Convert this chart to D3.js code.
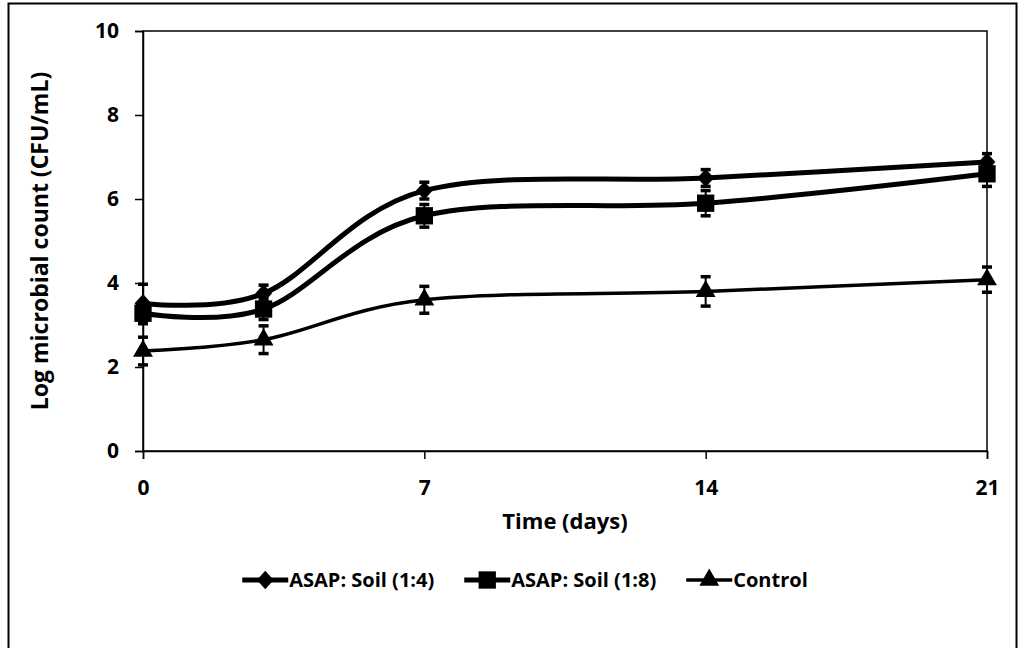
<!DOCTYPE html>
<html>
<head>
<meta charset="utf-8">
<script src="https://cdn.jsdelivr.net/npm/d3@7"></script>
<style>
  body { margin: 0; background: #fff; }
  text { font-family: "Open Sans", sans-serif; font-weight: bold; fill: #000; }
</style>
</head>
<body>
<svg id="chart"></svg>
<script>
// Data
const days = [0, 3, 7, 14, 21];
const seriesNames = ["ASAP: Soil (1:4)", "ASAP: Soil (1:8)", "Control"];
const soil14 = [3.52, 3.75, 6.2, 6.5, 6.88];
const soil14Err = [0.45, 0.2, 0.2, 0.2, 0.2];
const soil18 = [3.28, 3.38, 5.6, 5.9, 6.6];
const soil18Err = [0.25, 0.25, 0.27, 0.3, 0.3];
const control = [2.38, 2.65, 3.6, 3.8, 4.08];
const controlErr = [0.33, 0.33, 0.32, 0.35, 0.3];
const xTicks = [0, 7, 14, 21];
const yTicks = [0, 2, 4, 6, 8, 10];

// Excel-style diamond (rotated square)
const diamond = {
  draw(ctx, size) {
    const r = Math.sqrt(size / 2);
    ctx.moveTo(0, -r * 1.1);
    ctx.lineTo(r, 0);
    ctx.lineTo(0, r * 1.1);
    ctx.lineTo(-r, 0);
    ctx.closePath();
  }
};

const series = [
  { name: seriesNames[0], values: soil14, err: soil14Err, symbol: diamond, size: 140, width: 5 },
  { name: seriesNames[1], values: soil18, err: soil18Err, symbol: d3.symbolSquare, size: 300, width: 5 },
  { name: seriesNames[2], values: control, err: controlErr, symbol: d3.symbolTriangle, size: 170, width: 3.5 }
];

const W = 1020, H = 648;
const margin = { left: 143, right: 33, top: 31, bottom: 197 };

const svg = d3.select("#chart").attr("width", W).attr("height", H);

// outer frame
svg.append("rect")
    .attr("x", 8.5).attr("y", 3.5)
    .attr("width", 1008).attr("height", 700)
    .attr("fill", "none").attr("stroke", "#000").attr("stroke-width", 2);

const x = d3.scaleLinear().domain([0, 21]).range([margin.left, W - margin.right]);
const y = d3.scaleLinear().domain([0, 10]).range([H - margin.bottom, margin.top]);

// plot area box
svg.append("rect")
    .attr("x", x(0)).attr("y", y(10))
    .attr("width", x(21) - x(0)).attr("height", y(0) - y(10))
    .attr("fill", "none").attr("stroke", "#000").attr("stroke-width", 1.5);

// axes
const xAxis = svg.append("g")
    .attr("transform", `translate(0,${y(0)})`)
    .call(d3.axisBottom(x).tickValues(xTicks).tickSize(8).tickPadding(21));
const yAxis = svg.append("g")
    .attr("transform", `translate(${x(0)},0)`)
    .call(d3.axisLeft(y).tickValues(yTicks).tickSize(8).tickPadding(16));

[xAxis, yAxis].forEach(a => {
  a.select(".domain").attr("stroke", "#000").attr("stroke-width", 1.5);
  a.selectAll(".tick line").attr("stroke", "#000").attr("stroke-width", 1.5);
  a.selectAll(".tick text")
      .attr("font-family", "'Open Sans', sans-serif")
      .attr("font-weight", "bold")
      .attr("font-size", 21)
      .attr("fill", "#000");
});

// axis titles
svg.append("text")
    .attr("x", (x(0) + x(21)) / 2)
    .attr("y", 529)
    .attr("text-anchor", "middle")
    .attr("font-size", 22)
    .text("Time (days)");

svg.append("text")
    .attr("transform", `translate(48,${(y(0) + y(10)) / 2}) rotate(-90)`)
    .attr("text-anchor", "middle")
    .attr("font-size", 23)
    .text("Log microbial count (CFU/mL)");

// lines
const line = d3.line()
    .x((d, i) => x(days[i]))
    .y(d => y(d))
    .curve(d3.curveCardinal.tension(0));

const chart = svg.append("g");

series.forEach(s => {
  chart.append("path")
      .datum(s.values)
      .attr("fill", "none")
      .attr("stroke", "#000")
      .attr("stroke-width", s.width)
      .attr("d", line);
});

// error bars
series.forEach(s => {
  const g = chart.append("g");
  s.values.forEach((v, i) => {
    const cx = x(days[i]);
    g.append("line")
        .attr("x1", cx).attr("x2", cx)
        .attr("y1", y(v + s.err[i])).attr("y2", y(v - s.err[i]))
        .attr("stroke", "#000").attr("stroke-width", 2);
    [v + s.err[i], v - s.err[i]].forEach(e => {
      g.append("line")
          .attr("x1", cx - 5).attr("x2", cx + 5)
          .attr("y1", y(e)).attr("y2", y(e))
          .attr("stroke", "#000").attr("stroke-width", 3.5);
    });
  });
});

// markers
series.forEach(s => {
  chart.selectAll(null)
      .data(s.values)
    .join("path")
      .attr("transform", (d, i) => `translate(${x(days[i])},${y(d)})`)
      .attr("d", d3.symbol().type(s.symbol).size(s.size))
      .attr("fill", "#000");
});

// legend: items laid out by measured text, centred under the chart
const keyW = 46, gap = 30, legendCentre = 525;
const legend = svg.append("g").attr("transform", "translate(0,580)");
const items = series.map(s => {
  const g = legend.append("g");
  g.append("line")
      .attr("x1", 0).attr("x2", keyW)
      .attr("stroke", "#000").attr("stroke-width", s.width);
  g.append("path")
      .attr("transform", `translate(${keyW / 2},0)`)
      .attr("d", d3.symbol().type(s.symbol).size(s.size))
      .attr("fill", "#000");
  const t = g.append("text")
      .attr("x", keyW + 1)
      .attr("y", 7)
      .attr("font-size", 20)
      .text(s.name);
  return { g, w: keyW + 1 + t.node().getComputedTextLength() };
});
const total = d3.sum(items, d => d.w) + gap * (items.length - 1);
let pos = legendCentre - total / 2;
items.forEach(it => {
  it.g.attr("transform", `translate(${pos},0)`);
  pos += it.w + gap;
});
</script>
</body>
</html>
